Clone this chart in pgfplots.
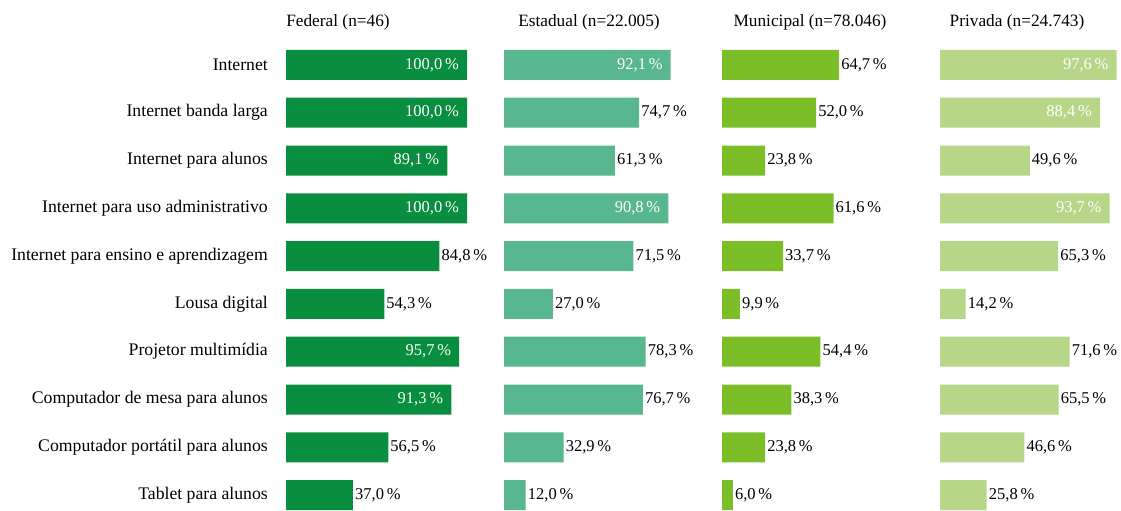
\documentclass[border=0pt]{standalone}
\usepackage{fontspec}
\setmainfont{Liberation Serif}
\usepackage{pgfplots}
\pgfplotsset{compat=1.18}

\definecolor{cfed}{RGB}{8,142,62}
\definecolor{cest}{RGB}{88,183,143}
\definecolor{cmun}{RGB}{124,190,40}
\definecolor{cpri}{RGB}{184,214,136}

\newcommand{\valfmt}{\pgfmathprintnumber[fixed,fixed zerofill,precision=1,use comma,assume math mode=true]{\pgfplotspointmeta}\,\%}

\pgfplotsset{
  panel/.style={
    xbar, bar shift=0pt, bar width=30pt,
    scale only axis, width=181pt, height=478pt,
    xmin=0, xmax=100, ymin=0.5, ymax=10.5, y dir=reverse,
    axis line style={draw=none}, xtick=\empty, ytick=\empty,
    major tick length=0pt,
    clip=false, anchor=north west,
    point meta=x,
  },
  inlab/.style={
    nodes near coords={\valfmt},
    nodes near coords align={left},
    nodes near coords style={anchor=east, text=white, inner sep=0pt, xshift=-8pt,
      font=\fontsize{16.5}{19}\selectfont},
  },
  outlab/.style={
    nodes near coords={\valfmt},
    nodes near coords style={anchor=west, text=black, inner sep=0pt, xshift=2pt,
      font=\fontsize{16.5}{19}\selectfont},
  },
}

\begin{document}
\begin{tikzpicture}
\path[use as bounding box] (0,0) rectangle (1121pt,-511pt);

\begin{scope}[every node/.style={font=\fontsize{17.3}{20}\selectfont}]
\node[anchor=base] at (338pt,-27pt) {Federal (n=46)};
\node[anchor=base] at (589pt,-27pt) {Estadual (n=22.005)};
\node[anchor=base] at (810pt,-27pt) {Municipal (n=78.046)};
\node[anchor=base] at (1017pt,-27pt) {Privada (n=24.743)};
\end{scope}

% Federal
\begin{axis}[panel, at={(286pt,-41pt)},
  ytick={1,...,10},
  yticklabels={Internet, Internet banda larga, Internet para alunos,
    Internet para uso administrativo, Internet para ensino e aprendizagem,
    Lousa digital, Projetor multimídia, Computador de mesa para alunos,
    Computador portátil para alunos, Tablet para alunos},
  yticklabel style={font=\fontsize{17.7}{20}\selectfont, inner sep=0pt, anchor=east, xshift=-18pt}]
\addplot[fill=cfed, draw=none, inlab] coordinates {(100,1) (100,2) (89.1,3) (100,4) (95.7,7) (91.3,8)};
\addplot[fill=cfed, draw=none, outlab] coordinates {(84.8,5) (54.3,6) (56.5,9) (37.0,10)};
\end{axis}

% Estadual
\begin{axis}[panel, at={(504pt,-41pt)}]
\addplot[fill=cest, draw=none, inlab] coordinates {(92.1,1) (90.8,4)};
\addplot[fill=cest, draw=none, outlab] coordinates {(74.7,2) (61.3,3) (71.5,5) (27.0,6) (78.3,7) (76.7,8) (32.9,9) (12.0,10)};
\end{axis}

% Municipal
\begin{axis}[panel, at={(722pt,-41pt)}]
\addplot[fill=cmun, draw=none, outlab] coordinates {(64.7,1) (52.0,2) (23.8,3) (61.6,4) (33.7,5) (9.9,6) (54.4,7) (38.3,8) (23.8,9) (6.0,10)};
\end{axis}

% Privada
\begin{axis}[panel, at={(940pt,-41pt)}]
\addplot[fill=cpri, draw=none, inlab] coordinates {(97.6,1) (88.4,2) (93.7,4)};
\addplot[fill=cpri, draw=none, outlab] coordinates {(49.6,3) (65.3,5) (14.2,6) (71.6,7) (65.5,8) (46.6,9) (25.8,10)};
\end{axis}
\end{tikzpicture}
\end{document}
